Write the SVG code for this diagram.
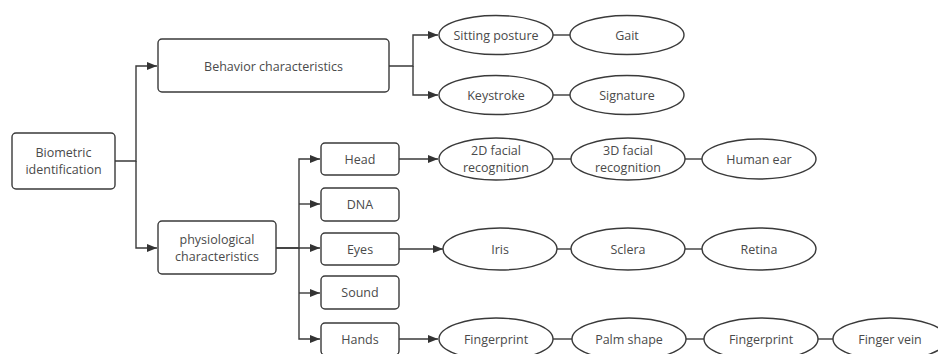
<svg xmlns="http://www.w3.org/2000/svg" width="938" height="354" viewBox="0 0 938 354">
<style>
.n rect, .n ellipse { fill: #ffffff; stroke: #3a3a3a; stroke-width: 1.4; }
text { font-family: "Open Sans", "Liberation Sans", sans-serif; font-size: 12.5px; fill: #4a4a4a; text-anchor: middle; dominant-baseline: central; }
.c path { fill: none; stroke: #3a3a3a; stroke-width: 1.4; }
</style>
<defs>
<marker id="ah" markerUnits="userSpaceOnUse" markerWidth="11" markerHeight="8" refX="10" refY="4" orient="auto">
<path d="M0,0 L10,4 L0,8 z" fill="#333333"/>
</marker>
</defs>
<rect width="938" height="354" fill="#ffffff"/>
<g class="c">
<path d="M115,161 H136 V66 H157" marker-end="url(#ah)"/>
<path d="M136,161 V248 H157" marker-end="url(#ah)"/>
<path d="M389,66 H413 V35 H438" marker-end="url(#ah)"/>
<path d="M413,66 V95 H438" marker-end="url(#ah)"/>
<path d="M553,35 H570"/>
<path d="M553,95 H570"/>
<path d="M276,248 H299 V159 H320" marker-end="url(#ah)"/>
<path d="M299,204 H320" marker-end="url(#ah)"/>
<path d="M276,248 H320" marker-end="url(#ah)"/>
<path d="M299,248 V339 H320" marker-end="url(#ah)"/>
<path d="M299,293 H320" marker-end="url(#ah)"/>
<path d="M399,159 H438" marker-end="url(#ah)"/>
<path d="M553,159 H571"/>
<path d="M685,159 H702"/>
<path d="M399,249 H443" marker-end="url(#ah)"/>
<path d="M557,249 H571"/>
<path d="M685,249 H702"/>
<path d="M399,339 H438" marker-end="url(#ah)"/>
<path d="M553,339 H572"/>
<path d="M686,339 H704"/>
<path d="M818,339 H833"/>
</g>
<g id="biometric" class="n"><rect x="12" y="133" width="103" height="56" rx="4"/><text x="63.5" y="152.5">Biometric</text><text x="63.5" y="169">identification</text></g>
<g id="behavior" class="n"><rect x="158" y="39" width="231" height="53" rx="4"/><text x="273.5" y="66">Behavior characteristics</text></g>
<g id="physiological" class="n"><rect x="158" y="221" width="118" height="53" rx="4"/><text x="217" y="239.5">physiological</text><text x="217" y="256.5">characteristics</text></g>
<g id="sitting" class="n"><ellipse cx="496" cy="35" rx="57" ry="19.5"/><text x="496" y="35">Sitting posture</text></g>
<g id="gait" class="n"><ellipse cx="627" cy="35" rx="57" ry="19.5"/><text x="627" y="35">Gait</text></g>
<g id="keystroke" class="n"><ellipse cx="496" cy="95" rx="57" ry="19.5"/><text x="496" y="95">Keystroke</text></g>
<g id="signature" class="n"><ellipse cx="627" cy="95" rx="57" ry="19.5"/><text x="627" y="95">Signature</text></g>
<g id="head" class="n"><rect x="321" y="143" width="78" height="32" rx="4"/><text x="360" y="159">Head</text></g>
<g id="dna" class="n"><rect x="321" y="188" width="78" height="33" rx="4"/><text x="360" y="204.5">DNA</text></g>
<g id="eyes" class="n"><rect x="321" y="233" width="78" height="32" rx="4"/><text x="360" y="249">Eyes</text></g>
<g id="sound" class="n"><rect x="321" y="276" width="78" height="33" rx="4"/><text x="360" y="292.5">Sound</text></g>
<g id="hands" class="n"><rect x="321" y="323" width="78" height="32" rx="4"/><text x="360" y="339">Hands</text></g>
<g id="face2d" class="n"><ellipse cx="496" cy="159" rx="57" ry="21"/><text x="496" y="150.5">2D facial</text><text x="496" y="167">recognition</text></g>
<g id="face3d" class="n"><ellipse cx="628" cy="159" rx="57" ry="21"/><text x="628" y="150.5">3D facial</text><text x="628" y="167">recognition</text></g>
<g id="ear" class="n"><ellipse cx="759" cy="159" rx="57" ry="20"/><text x="759" y="159">Human ear</text></g>
<g id="iris" class="n"><ellipse cx="500" cy="249" rx="57" ry="21"/><text x="500" y="249">Iris</text></g>
<g id="sclera" class="n"><ellipse cx="628" cy="249" rx="57" ry="21"/><text x="628" y="249">Sclera</text></g>
<g id="retina" class="n"><ellipse cx="759" cy="249" rx="57" ry="21"/><text x="759" y="249">Retina</text></g>
<g id="fingerprint1" class="n"><ellipse cx="496" cy="339" rx="57" ry="21"/><text x="496" y="339">Fingerprint</text></g>
<g id="palm" class="n"><ellipse cx="629" cy="339" rx="57" ry="21"/><text x="629" y="339">Palm shape</text></g>
<g id="fingerprint2" class="n"><ellipse cx="761" cy="339" rx="57" ry="21"/><text x="761" y="339">Fingerprint</text></g>
<g id="fingervein" class="n"><ellipse cx="890" cy="339" rx="57" ry="21"/><text x="890" y="339">Finger vein</text></g>
</svg>
